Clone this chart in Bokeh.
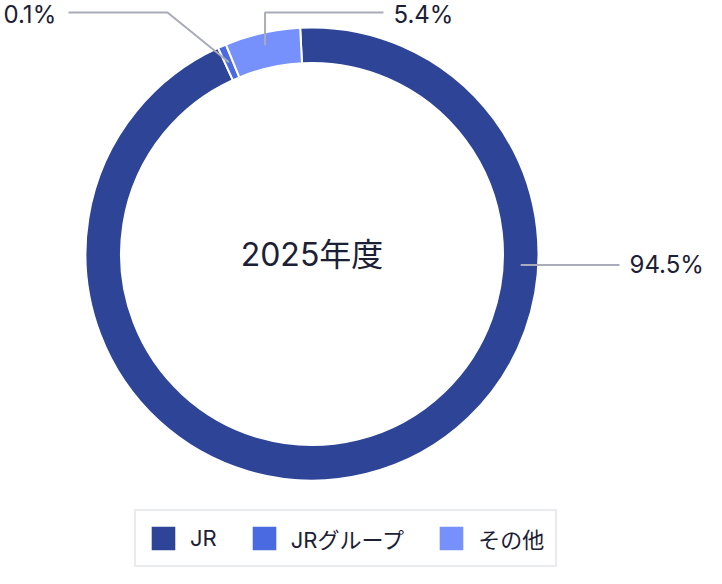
import math
from bokeh.plotting import figure
from bokeh.models import Range1d, Legend, LegendItem, ColumnDataSource
from bokeh.core.properties import value
from bokeh.embed import file_html
from bokeh.resources import INLINE

# ---- data ----
categories = ["JR", "JRグループ", "その他"]
shares = [94.5, 0.1, 5.4]
share_labels = ["94.5%", "0.1%", "5.4%"]
center_title = "2025年度"

# ---- style ----
colors = ["#2e4497", "#4a6ae2", "#7690fc"]
TEXT = "#1c2035"
LEADER = "#a9acb8"
FONT = "Inter, Noto Sans CJK JP"

W, H = 706, 568
p = figure(width=W, height=H, x_range=Range1d(0, W), y_range=Range1d(0, H),
           output_backend="svg", toolbar_location=None, min_border=0,
           x_axis_location=None, y_axis_location=None)
p.grid.visible = False
p.outline_line_color = None
p.background_fill_color = "white"
p.border_fill_color = "white"

def X(sx):  # picture px (from top-left) -> data
    return sx
def Y(sy):
    return H - sy

CX, CY = 311.5, 253.5
R_OUT, R_IN = 226.5, 191.0
R_MID = 209.0

# slice angles (clockwise from 12 o'clock), tiny slices get a visible floor
floor = 0.6
disp = [max(s, floor) for s in shares]
tot = sum(disp)
t = -3.0
starts, ends, mids = [], [], []
for d in disp:
    span = d / tot * 360.0
    a, b = t, t + span
    starts.append(math.radians(90 - b))
    ends.append(math.radians(90 - a))
    mids.append((a + b) / 2)
    t = b

src = ColumnDataSource(dict(cat=categories, start=starts, end=ends, color=colors))
r = p.annular_wedge(x=X(CX), y=Y(CY), inner_radius=R_IN, outer_radius=R_OUT,
                    start_angle="start", end_angle="end", fill_color="color",
                    line_color="white", line_width=2, source=src)

def ring_pt(theta_cw, rad):
    th = math.radians(theta_cw)
    return CX + rad * math.sin(th), CY - rad * math.cos(th)

TOP_Y = 12
# JR leader: horizontal to the right
jx, jy = ring_pt(93, R_MID)
p.line([X(jx), X(619)], [Y(jy), Y(jy)], line_color=LEADER, line_width=2)
# JRグループ leader: diagonal then horizontal to the left
gx, gy = ring_pt(mids[1], R_MID)
p.line([X(gx), X(167), X(68)], [Y(gy), Y(TOP_Y), Y(TOP_Y)], line_color=LEADER, line_width=2)
# その他 leader: vertical then horizontal to the right
ox, oy = ring_pt(mids[2], 214)
p.line([X(ox), X(ox), X(383)], [Y(oy), Y(TOP_Y), Y(TOP_Y)], line_color=LEADER, line_width=2)

p.text(x=[X(629), X(3), X(393)], y=[Y(jy), Y(TOP_Y + 2), Y(TOP_Y + 2)], text=share_labels,
       text_font=value(FONT), text_font_size="24px", text_color=TEXT,
       text_align="left", text_baseline="middle")

p.text(x=[X(CX)], y=[Y(CY)], text=[center_title], text_font=value(FONT),
       text_font_size="32px", text_color=TEXT,
       text_align="center", text_baseline="middle")

legend = Legend(items=[LegendItem(label=value(c), renderers=[r], index=i)
                       for i, c in enumerate(categories)],
                orientation="horizontal", location=(134, 1),
                glyph_width=32, glyph_height=32, label_standoff=11, spacing=31,
                padding=11, margin=0, border_line_color="#d5d8de",
                border_line_width=2, background_fill_color="white",
                background_fill_alpha=1.0,
                label_text_font=FONT, label_text_font_size="22px",
                label_text_color=TEXT, label_height=32)
p.add_layout(legend)

open("out.html", "w").write(file_html(p, INLINE))
